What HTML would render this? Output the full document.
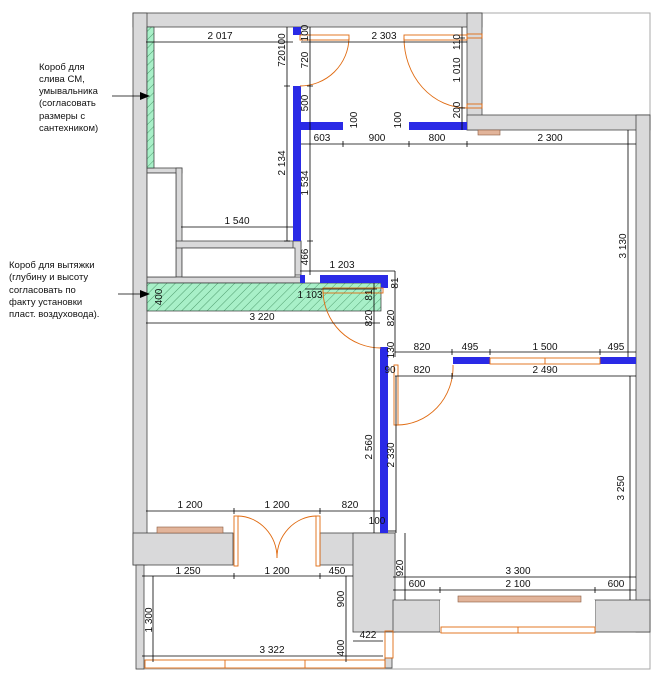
<!DOCTYPE html>
<html><head><meta charset="utf-8"><style>
html,body{margin:0;padding:0;background:#fff;}
svg{display:block;font-family:"Liberation Sans",sans-serif;}
text{font-size:10px;fill:#111;}
.t{font-size:9.5px;}
</style></head><body>
<svg width="669" height="685" viewBox="0 0 669 685" xmlns="http://www.w3.org/2000/svg">
<defs>
<pattern id="h" patternUnits="userSpaceOnUse" width="6" height="6" patternTransform="rotate(45)">
<rect width="6" height="6" fill="#a8f0c8"/><line x1="0" y1="0" x2="0" y2="6" stroke="#3a8a5a" stroke-width="0.8"/>
</pattern>
</defs>
<!-- frame lines -->
<g stroke="#aaa" stroke-width="1" fill="none">
<polyline points="482,13 650,13 650,115"/>
<polyline points="136,669 650,669 650,632"/>
</g>
<!-- gray walls -->
<g fill="#d9d9da" stroke="#444" stroke-width="0.8">
<rect x="133" y="13" width="349" height="14"/>
<rect x="467" y="13" width="15" height="117"/>
<rect x="467" y="115" width="183" height="15"/>
<rect x="636" y="115" width="14" height="517"/>
<rect x="133" y="13" width="14" height="552"/>
<rect x="133" y="533" width="100" height="32"/>
<rect x="320" y="533" width="75" height="32"/>
<rect x="353" y="533" width="42" height="99"/>
<rect x="393" y="600" width="47" height="32"/>
<rect x="595" y="600" width="55" height="32"/>
<rect x="136" y="565" width="8" height="104"/>
<rect x="385" y="658" width="7" height="10"/>
<!-- partitions -->
<rect x="147" y="168" width="35" height="5"/>
<rect x="176" y="168" width="6" height="109"/>
<rect x="176" y="241" width="125" height="7"/>
<rect x="293" y="241" width="8" height="34"/>
<rect x="147" y="277" width="154" height="6"/>
</g>
<!-- interiors outline -->
<g fill="#fff" stroke="#444" stroke-width="0.8">
<rect x="147" y="173" width="29" height="104"/>
<rect x="182" y="248" width="113" height="29"/>
<rect x="440" y="600" width="155" height="32" stroke="none"/>
</g>
<!-- green boxes -->
<rect x="147" y="27" width="7" height="141" fill="url(#h)" stroke="#333" stroke-width="0.7"/>
<rect x="147" y="283" width="234" height="28" fill="url(#h)" stroke="#333" stroke-width="0.7"/>
<!-- blue walls -->
<g fill="#2a2ae6">
<rect x="293" y="27" width="8" height="8"/>
<rect x="293" y="86" width="8" height="155"/>
<rect x="301" y="122" width="42" height="8"/>
<rect x="409" y="122" width="58" height="8"/>
<rect x="300" y="275" width="5" height="8"/>
<rect x="320" y="275" width="68" height="8"/>
<rect x="381" y="275" width="7" height="13"/>
<rect x="380" y="347" width="8" height="186"/>
<rect x="453" y="357" width="37" height="7"/>
<rect x="600" y="357" width="36" height="7"/>
</g>
<!-- brown sills -->
<g fill="#e2b49a" stroke="#8a5a40" stroke-width="0.6">
<rect x="478" y="130" width="22" height="5"/>
<rect x="157" y="527" width="66" height="6"/>
<rect x="458" y="596" width="123" height="6"/>
</g>
<!-- doors & windows orange -->
<g fill="none" stroke="#e06a10" stroke-width="0.9">
<rect x="300" y="35" width="49" height="5"/>
<path d="M349,38 A49,49 0 0 1 300,86"/>
<rect x="404" y="35" width="63" height="5"/>
<path d="M404,38 A63,70 0 0 0 467,108"/>
<rect x="467" y="34" width="15" height="4"/><rect x="467" y="104" width="15" height="4"/>
<rect x="323" y="288" width="60" height="5"/>
<path d="M323,291 A58,58 0 0 0 381,348"/>
<rect x="394" y="365" width="4" height="60"/>
<path d="M396,425 A56,58 0 0 0 453,365"/>
<rect x="490" y="358" width="110" height="6"/><line x1="545" y1="358" x2="545" y2="364"/>
<rect x="234" y="516" width="4" height="50"/><rect x="316" y="516" width="4" height="50"/>
<path d="M238,516 A40,42 0 0 1 277,558"/><path d="M316,516 A40,42 0 0 0 277,558"/>
<rect x="145" y="660" width="240" height="8"/><line x1="225" y1="660" x2="225" y2="668"/><line x1="305" y1="660" x2="305" y2="668"/>
<rect x="385" y="631" width="8" height="27"/>
<rect x="441" y="627" width="154" height="6"/><line x1="518" y1="627" x2="518" y2="633"/>
</g>
<!-- dimension lines -->
<g stroke="#000" stroke-width="0.8" fill="none">
<line x1="146" y1="42" x2="293" y2="42"/>
<line x1="301" y1="42" x2="467" y2="42"/>
<line x1="287" y1="27" x2="287" y2="241"/>
<line x1="310" y1="27" x2="310" y2="275"/>
<line x1="462" y1="27" x2="462" y2="130"/>
<line x1="301" y1="144" x2="636" y2="144"/>
<line x1="181" y1="227" x2="293" y2="227"/>
<line x1="628" y1="130" x2="628" y2="357"/>
<line x1="300" y1="271" x2="395" y2="271"/>
<line x1="395" y1="271" x2="395" y2="357"/>
<line x1="305" y1="289" x2="377" y2="289"/>
<line x1="146" y1="323" x2="380" y2="323"/>
<line x1="374" y1="283" x2="374" y2="533"/>
<line x1="395" y1="352" x2="636" y2="352"/>
<line x1="395" y1="376" x2="636" y2="376"/>
<line x1="396" y1="376" x2="396" y2="533"/>
<line x1="630" y1="376" x2="630" y2="600"/>
<line x1="146" y1="511" x2="380" y2="511"/>
<line x1="388" y1="531" x2="396" y2="531"/>
<line x1="405" y1="533" x2="405" y2="600"/>
<line x1="393" y1="577" x2="636" y2="577"/>
<line x1="393" y1="590" x2="636" y2="590"/>
<line x1="142" y1="576" x2="353" y2="576"/>
<line x1="153" y1="576" x2="153" y2="662"/>
<line x1="346" y1="576" x2="346" y2="662"/>
<line x1="353" y1="641" x2="383" y2="641"/>
<line x1="142" y1="656" x2="383" y2="656"/>
<!-- ticks -->
<path d="M343,141v6M409,141v6M467,141v6M452,349v6M490,349v6M600,349v6M452,373v6M234,508v6M320,508v6M440,587v6M595,587v6M234,573v6M320,573v6M284,86h6M307,86h6M459,38h6M459,108h6M284,241h6M307,241h6"/>
<!-- annotation arrows -->
<line x1="112" y1="96" x2="148" y2="96"/>
<line x1="118" y1="294" x2="148" y2="294"/>
</g>
<polygon points="140,92 150,96 140,100" fill="#000"/>
<polygon points="140,290 150,294 140,298" fill="#000"/>
<!-- dimension texts horizontal -->
<text x="220" y="39" text-anchor="middle">2 017</text>
<text x="384" y="39" text-anchor="middle">2 303</text>
<text x="322" y="141" text-anchor="middle">603</text>
<text x="377" y="141" text-anchor="middle">900</text>
<text x="437" y="141" text-anchor="middle">800</text>
<text x="550" y="141" text-anchor="middle">2 300</text>
<text x="237" y="224" text-anchor="middle">1 540</text>
<text x="342" y="268" text-anchor="middle">1 203</text>
<text x="310" y="298" text-anchor="middle">1 103</text>
<text x="262" y="320" text-anchor="middle">3 220</text>
<text x="422" y="350" text-anchor="middle">820</text>
<text x="470" y="350" text-anchor="middle">495</text>
<text x="545" y="350" text-anchor="middle">1 500</text>
<text x="616" y="350" text-anchor="middle">495</text>
<text x="422" y="373" text-anchor="middle">820</text>
<text x="545" y="373" text-anchor="middle">2 490</text>
<text x="390" y="373" text-anchor="middle">90</text>
<text x="190" y="508" text-anchor="middle">1 200</text>
<text x="277" y="508" text-anchor="middle">1 200</text>
<text x="350" y="508" text-anchor="middle">820</text>
<text x="377" y="524" text-anchor="middle">100</text>
<text x="518" y="574" text-anchor="middle">3 300</text>
<text x="417" y="587" text-anchor="middle">600</text>
<text x="518" y="587" text-anchor="middle">2 100</text>
<text x="616" y="587" text-anchor="middle">600</text>
<text x="188" y="574" text-anchor="middle">1 250</text>
<text x="277" y="574" text-anchor="middle">1 200</text>
<text x="337" y="574" text-anchor="middle">450</text>
<text x="368" y="638" text-anchor="middle">422</text>
<text x="272" y="653" text-anchor="middle">3 322</text>
<!-- rotated texts -->
<g text-anchor="middle">
<text transform="translate(285,50) rotate(-90)">720100</text>
<text transform="translate(285,163) rotate(-90)">2 134</text>
<text transform="translate(308,33) rotate(-90)">100</text>
<text transform="translate(308,60) rotate(-90)">720</text>
<text transform="translate(308,103) rotate(-90)">500</text>
<text transform="translate(308,183) rotate(-90)">1 534</text>
<text transform="translate(308,257) rotate(-90)">466</text>
<text transform="translate(460,42) rotate(-90)">110</text>
<text transform="translate(460,70) rotate(-90)">1 010</text>
<text transform="translate(460,110) rotate(-90)">200</text>
<text transform="translate(357,120) rotate(-90)">100</text>
<text transform="translate(401,120) rotate(-90)">100</text>
<text transform="translate(626,246) rotate(-90)">3 130</text>
<text transform="translate(398,283) rotate(-90)">81</text>
<text transform="translate(372,295) rotate(-90)">81</text>
<text transform="translate(162,297) rotate(-90)">400</text>
<text transform="translate(372,318) rotate(-90)">820</text>
<text transform="translate(394,318) rotate(-90)">820</text>
<text transform="translate(394,350) rotate(-90)">130</text>
<text transform="translate(372,447) rotate(-90)">2 560</text>
<text transform="translate(394,455) rotate(-90)">2 330</text>
<text transform="translate(624,488) rotate(-90)">3 250</text>
<text transform="translate(403,568) rotate(-90)">920</text>
<text transform="translate(152,620) rotate(-90)">1 300</text>
<text transform="translate(344,599) rotate(-90)">900</text>
<text transform="translate(344,648) rotate(-90)">400</text>
</g>
<!-- annotations -->
<g class="t">
<text class="t" x="39" y="70">Короб для</text>
<text class="t" x="39" y="82">слива СМ,</text>
<text class="t" x="39" y="94">умывальника</text>
<text class="t" x="39" y="106">(согласовать</text>
<text class="t" x="39" y="119">размеры с</text>
<text class="t" x="39" y="131">сантехником)</text>
<text class="t" x="9" y="268">Короб для вытяжки</text>
<text class="t" x="9" y="280">(глубину и высоту</text>
<text class="t" x="9" y="293">согласовать по</text>
<text class="t" x="9" y="305">факту установки</text>
<text class="t" x="9" y="317">пласт. воздуховода).</text>
</g>
</svg>
</body></html>
